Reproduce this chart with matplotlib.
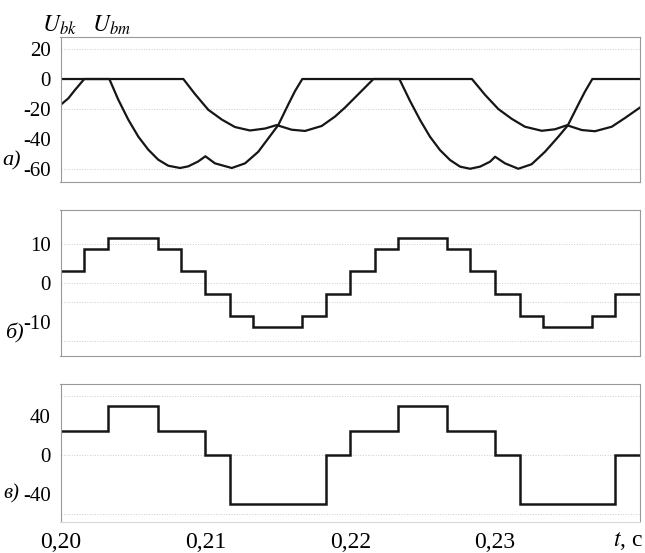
import numpy as np
import matplotlib.pyplot as plt

plt.rcParams['font.family'] = ['Liberation Serif', 'DejaVu Serif']
plt.rcParams['mathtext.fontset'] = 'stix'
plt.rcParams['axes.unicode_minus'] = False

# --- panel a): two curves U_bk, U_bm (read off the picture) ---
t_bk = [0.2000, 0.20054, 0.20100, 0.20164, 0.20337, 0.20399, 0.20468, 0.20537,
        0.20606, 0.20675, 0.20744, 0.20825, 0.20882, 0.20951, 0.2100, 0.21066,
        0.21182, 0.21274, 0.21365, 0.21458, 0.21503, 0.21572, 0.21619, 0.21669,
        0.22339, 0.22412, 0.22482, 0.22550, 0.22619, 0.22689, 0.22758, 0.22827,
        0.22896, 0.22965, 0.2300, 0.23068, 0.23160, 0.23252, 0.23344, 0.23436,
        0.23501, 0.23574, 0.23620, 0.23671, 0.2400]
u_bk = [-17.3, -12.9, -7.3, 0, 0, -13.8, -27.1, -38.4,
        -47.1, -53.8, -57.8, -59.3, -58.2, -54.9, -51.5, -56.2,
        -59.3, -56.2, -48.5, -36.5, -30.7, -17.0, -8.0, 0,
        0, -14.5, -27.3, -38.4, -47.3, -54.0, -58.4, -59.8,
        -58.4, -55.1, -51.8, -56.2, -59.8, -56.8, -48.5, -38.5,
        -31.0, -17.0, -8.4, 0, 0]

t_bm = [0.2000, 0.20848, 0.20928, 0.21020, 0.21113, 0.21204, 0.21308, 0.21412,
        0.21492, 0.21596, 0.21688, 0.21803, 0.21895, 0.21964, 0.22026, 0.22088,
        0.22160, 0.22840, 0.22930, 0.23022, 0.23114, 0.23206, 0.23322, 0.23413,
        0.23496, 0.23598, 0.23689, 0.23805, 0.23896, 0.2400]
u_bm = [0, 0, -10.0, -20.5, -27.0, -32.0, -34.3, -33.0,
        -30.7, -33.8, -34.6, -31.3, -25.0, -19.0, -13.0, -7.0,
        0, 0, -10.5, -20.0, -26.5, -31.8, -34.5, -33.5,
        -30.8, -34.0, -34.8, -31.8, -26.0, -19.0]

# --- panel б): staircase ---
t_b = [0.2000, 0.2000, 0.2016, 0.2033, 0.2067, 0.2083, 0.2100, 0.2117, 0.2133,
       0.2167, 0.2183, 0.2200, 0.2217, 0.2233, 0.2267, 0.2283, 0.2300, 0.2317,
       0.2333, 0.2367, 0.2383, 0.2400]
u_b = [-2.9, 2.9, 8.7, 11.4, 8.7, 2.9, -2.9, -8.7, -11.4, -8.7, -2.9,
       2.9, 8.7, 11.4, 8.7, 2.9, -2.9, -8.7, -11.4, -8.7, -2.9]

# --- panel в): staircase ---
t_v = [0.2000, 0.2000, 0.2033, 0.2067, 0.2100, 0.2117, 0.2183, 0.2200, 0.2233,
       0.2267, 0.2300, 0.2317, 0.2383, 0.2400]
u_v = [0, 25, 50, 25, 0, -50, 0, 25, 50, 25, 0, -50, 0]

fig = plt.figure(figsize=(6.45, 5.53), dpi=100)
left, width = 60.5 / 645, 579.5 / 645
ax1 = fig.add_axes([left, 1 - 181.5 / 553, width, 144.5 / 553])
ax2 = fig.add_axes([left, 1 - 355.5 / 553, width, 145.5 / 553])
ax3 = fig.add_axes([left, 1 - 522 / 553, width, 138 / 553])

lc = '#161616'
ax1.plot(t_bk, u_bk, color=lc, lw=1.6)
ax1.plot(t_bm, u_bm, color=lc, lw=1.6)
ax2.stairs(u_b, t_b, baseline=None, color=lc, lw=1.8)
ax3.stairs(u_v, t_v, baseline=None, color=lc, lw=1.8)

ax1.set_ylim(-68.3, 28)
ax2.set_ylim(-18.7, 18.6)
ax3.set_ylim(-68.7, 72.8)
ax1.set_yticks([20, 0, -20, -40, -60])
ax2.set_yticks([10, 0, -10])
ax3.set_yticks([40, 0, -40])

grids = {ax1: [20, -20, -60], ax2: [10, 0, -5, -15], ax3: [60, 0, -60]}
for ax, gl in grids.items():
    ax.set_xlim(0.20, 0.24)
    for g in gl:
        ax.axhline(g, color='0.8', lw=0.7, ls=':', zorder=0)
    for s in ax.spines.values():
        s.set_color('0.6')
        s.set_linewidth(0.8)
    ax.tick_params(length=0, pad=7, labelsize=15)
    ax.set_xticks([])

ax3.spines['bottom'].set_color('0.85')
ax3.set_xticks([0.20, 0.21, 0.22, 0.23])
ax3.set_xticklabels(['0,20', '0,21', '0,22', '0,23'])
ax3.tick_params(axis='x', labelsize=17, pad=7)

fig.text(42 / 645, 1 - 25 / 553, r'$U_{bk}$', fontsize=17, ha='left', va='center')
fig.text(92 / 645, 1 - 25 / 553, r'$U_{bm}$', fontsize=17, ha='left', va='center')
fig.text(12 / 645, 1 - 161 / 553, 'а)', fontsize=16, style='italic', ha='center', va='center')
fig.text(14 / 645, 1 - 333 / 553, 'б)', fontsize=16, style='italic', ha='center', va='center')
fig.text(11 / 645, 1 - 494 / 553, 'в)', fontsize=15, style='italic', ha='center', va='center')
fig.text(628 / 645, 1 - 541 / 553, r'$t$, c', fontsize=17, ha='center', va='center')

fig.savefig('out.png', dpi=100)
